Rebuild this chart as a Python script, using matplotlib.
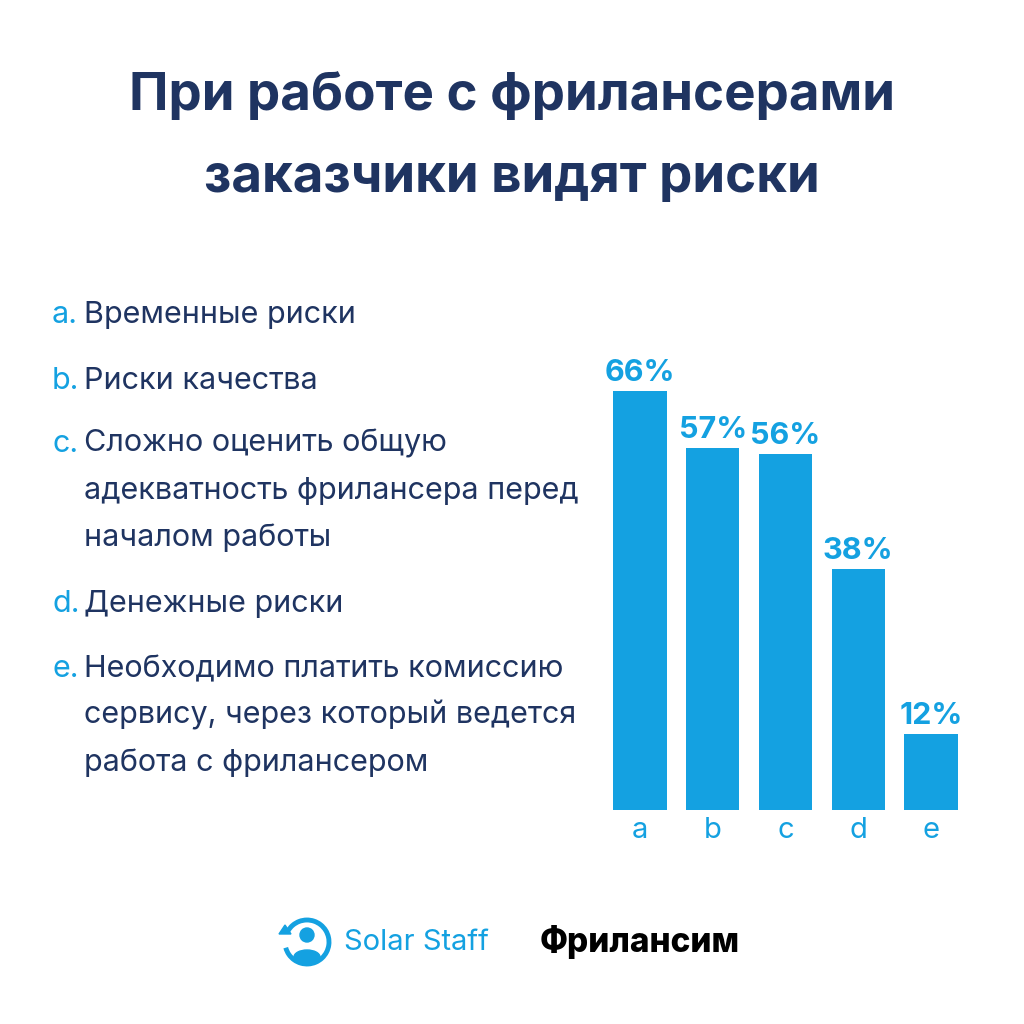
import matplotlib
matplotlib.use("Agg")
import matplotlib.pyplot as plt
from matplotlib.patches import Circle, Arc, Ellipse, Polygon

categories = ["a", "b", "c", "d", "e"]
values = [66, 57, 56, 38, 12]
items = [
    ["Временные риски"],
    ["Риски качества"],
    ["Сложно оценить общую", "адекватность фрилансера перед", "началом работы"],
    ["Денежные риски"],
    ["Необходимо платить комиссию", "сервису, через который ведется",
     "работа с фрилансером"],
]
title_lines = ["При работе с фрилансерами", "заказчики видят риски"]

NAVY = "#1f3461"
BLUE = "#14a1e1"


def px(x, y):
    return x / 1024, 1 - y / 1024


def main():
    plt.rcParams["font.family"] = ["Inter", "DejaVu Sans"]
    fig = plt.figure(figsize=(10.24, 10.24), dpi=100)
    fig.patch.set_facecolor("white")

    # title
    for line, y in zip(title_lines, [96, 178]):
        fig.text(*px(512, y), line, ha="center", va="center",
                 fontsize=38, fontweight="bold", color=NAVY)

    # list of risks, baselines of the first line of each item
    baselines = [323, 389, 452, 612, 677]
    step = 47
    for cat, lines, y in zip(categories, items, baselines):
        fig.text(*px(52, y), cat + ".", ha="left", va="baseline",
                 fontsize=22, color=BLUE)
        for k, line in enumerate(lines):
            fig.text(*px(84, y + k * step), line, ha="left", va="baseline",
                     fontsize=22, color=NAVY)

    # bars
    ax = fig.add_axes([603.6 / 1024, 1 - 810 / 1024, 363.8 / 1024, 419 / 1024])
    xs = range(len(categories))
    ax.bar(xs, values, width=0.73, color=BLUE)
    ax.set_xlim(-0.5, len(categories) - 0.5)
    ax.set_ylim(0, 66)
    for s in ax.spines.values():
        s.set_visible(False)
    ax.set_yticks([])
    ax.set_xticks(list(xs))
    ax.set_xticklabels(categories, fontsize=21, color=BLUE)
    ax.tick_params(axis="x", length=0, pad=5)
    for i, v in zip(xs, values):
        ax.annotate(f"{v}%", (i, v), xytext=(0, 3), textcoords="offset points",
                    ha="center", va="bottom", fontsize=22, fontweight="bold",
                    color=BLUE, annotation_clip=False)

    # logos
    cx, cy = px(307, 942)
    r = 22 / 1024
    fig.patches.append(Arc((cx, cy), 2 * r, 2 * r, theta1=195, theta2=510,
                           lw=3.5, color=BLUE, transform=fig.transFigure))
    fig.patches.append(Polygon([px(279, 934), px(291, 934), px(285, 925)],
                               closed=True, color=BLUE,
                               transform=fig.transFigure))
    fig.patches.append(Circle(px(307, 935), 7 / 1024, color=BLUE,
                              transform=fig.transFigure))
    fig.patches.append(Ellipse(px(307, 957), 26 / 1024, 14 / 1024, color=BLUE,
                               transform=fig.transFigure))
    fig.text(*px(344, 942), "Solar Staff", ha="left", va="center",
             fontsize=21, color=BLUE)
    fig.text(*px(540, 942), "Фрилансим", ha="left", va="center",
             fontsize=24, fontweight=800, color="black")

    fig.savefig("out.png", dpi=100, facecolor="white")


if __name__ == "__main__":
    main()
